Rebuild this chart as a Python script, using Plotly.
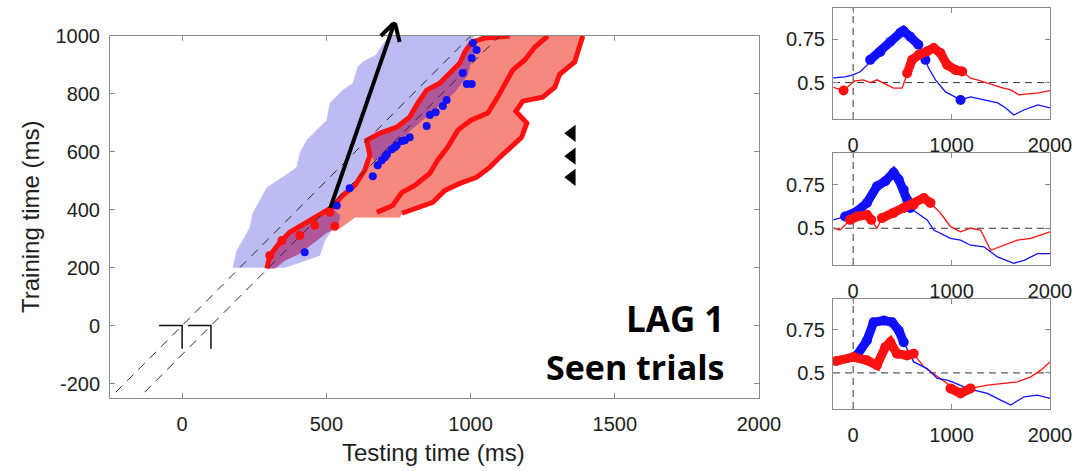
import plotly.graph_objects as go

# ---------------- main panel (temporal generalization) ----------------
blue_region_x = [176, 190, 210, 235, 245, 269, 294, 349, 398, 408, 432, 467, 502, 512, 557, 592, 609, 626, 672, 702, 727,
                 1014, 987, 945, 893, 824, 755, 668, 616, 547, 529, 495, 477, 408, 356, 176]
blue_region_y = [201, 260, 294, 339, 388, 433, 477, 512, 547, 595, 640, 675, 709, 768, 813, 837, 893, 910, 934, 979, 1000,
                 1000, 952, 865, 813, 744, 675, 606, 502, 433, 346, 294, 242, 218, 201, 201]

outer_contour_x = [294, 304, 339, 373, 443, 488, 519, 557, 599, 633, 651, 640, 685, 744, 789, 817, 848, 893, 928, 963, 980, 1004, 1049, 1136]
outer_contour_y = [197, 242, 287, 322, 363, 391, 408, 450, 484, 536, 588, 640, 664, 685, 720, 768, 813, 837, 872, 907, 945, 979, 993, 1000]

middle_contour_x = [675, 730, 762, 807, 859, 886, 921, 956, 1001, 1060, 1094, 1119, 1146, 1188, 1223, 1268]
middle_contour_y = [391, 415, 460, 484, 526, 571, 616, 675, 709, 734, 789, 830, 882, 917, 962, 1000]

right_contour_x = [762, 824, 869, 911, 963, 1021, 1067, 1101, 1136, 1177, 1195, 1157, 1181, 1250, 1292, 1309, 1361, 1372, 1382, 1389]
right_contour_y = [388, 408, 426, 467, 491, 512, 547, 581, 612, 650, 699, 740, 775, 789, 823, 868, 910, 945, 979, 1000]

red_bottom_x = [755, 600, 547, 520, 505]
red_bottom_y = [374, 374, 336, 336, 370]

band_x = [294, 304, 339, 373, 443, 488, 519, 547, 540, 500, 467, 408, 356, 321]
band_y = [197, 242, 287, 322, 363, 391, 408, 380, 340, 320, 294, 249, 225, 197]

pocket_low_x = [1014, 990, 945, 893, 841, 772, 720, 668, 644]
pocket_low_y = [958, 865, 806, 761, 716, 657, 606, 571, 598]

blue_dots_x = [536, 581, 661, 678, 692, 703, 710, 727, 737, 744, 762, 772, 789, 848, 859, 879, 904, 917, 987, 1004, 973, 1004, 1021, 1008, 425]
blue_dots_y = [415, 474, 516, 554, 571, 581, 592, 609, 616, 623, 637, 640, 650, 689, 727, 737, 758, 779, 834, 834, 872, 924, 952, 976, 253]

red_dots_x = [346, 460, 529, 304, 512, 408]
red_dots_y = [294, 346, 343, 242, 391, 311]

diag_offsets = [0, 100]
diag_y = [-230, 1000]

onset_marks_x = [[-80, 0, 0], [20, 100, 100]]
onset_marks_y = [[0, 0, -80], [0, 0, -80]]

tri_x = [1351, 1351, 1351]
tri_y = [664, 585, 512]

arrow_tail = (512, 401)
arrow_tip = (737, 1048)
arrow_wings = [(689, 1000), (754, 979)]

main_xticks = [0, 500, 1000, 1500, 2000]
main_yticks = [-200, 0, 200, 400, 600, 800, 1000]
main_yticktext = ["-200", "0", "200", "400", "600", "800", "1000"]

# ---------------- right panels (diagonal decoding) ----------------
p1_blue_t = [-204, -82, 0, 71, 143, 173, 275, 377, 479, 510, 581, 663, 683, 734, 765, 836, 938, 1091, 1193, 1326, 1469, 1550, 1632, 1734, 1877, 2000]
p1_blue_v = [0.527, 0.533, 0.545, 0.562, 0.602, 0.631, 0.677, 0.735, 0.787, 0.799, 0.764, 0.718, 0.689, 0.631, 0.585, 0.516, 0.446, 0.40, 0.417, 0.40, 0.383, 0.354, 0.313, 0.342, 0.371, 0.354]
p1_blue_sig = [[173, 663], [734, 734], [1091, 1091]]
p1_red_t = [-201, -98, -31, 20, 105, 173, 242, 344, 411, 497, 548, 599, 667, 752, 819, 887, 955, 1040, 1108, 1193, 1261, 1363, 1499, 1601, 1686, 1771, 1873, 2000]
p1_red_v = [0.473, 0.454, 0.487, 0.51, 0.516, 0.50, 0.516, 0.487, 0.468, 0.468, 0.554, 0.631, 0.66, 0.679, 0.699, 0.67, 0.602, 0.573, 0.564, 0.525, 0.516, 0.496, 0.473, 0.458, 0.429, 0.435, 0.439, 0.454]
p1_red_sig = [[-98, -98], [548, 1108]]

p2_blue_t = [-201, -82, 38, 140, 242, 326, 411, 463, 513, 548, 581, 650, 752, 819, 887, 989, 1091, 1193, 1329, 1466, 1632, 1737, 1873, 2000]
p2_blue_v = [0.548, 0.567, 0.596, 0.645, 0.740, 0.769, 0.818, 0.779, 0.721, 0.664, 0.616, 0.587, 0.548, 0.49, 0.471, 0.442, 0.432, 0.403, 0.394, 0.336, 0.30, 0.317, 0.355, 0.355]
p2_blue_sig = [[-82, 581]]
p2_red_t = [-201, -133, -31, 38, 140, 184, 242, 292, 411, 513, 615, 717, 785, 887, 989, 1091, 1193, 1295, 1397, 1533, 1669, 1805, 1907, 2000]
p2_red_v = [0.50, 0.49, 0.548, 0.567, 0.577, 0.548, 0.50, 0.558, 0.587, 0.616, 0.635, 0.673, 0.645, 0.587, 0.509, 0.48, 0.50, 0.49, 0.374, 0.403, 0.432, 0.442, 0.461, 0.48]
p2_red_sig = [[-31, 184], [292, 785]]

p3_blue_t = [-201, -98, 3, 38, 140, 208, 310, 395, 463, 513, 615, 752, 854, 955, 1006, 1125, 1227, 1363, 1499, 1601, 1737, 1873, 2000]
p3_blue_v = [0.545, 0.564, 0.592, 0.602, 0.689, 0.795, 0.805, 0.795, 0.747, 0.679, 0.564, 0.525, 0.468, 0.458, 0.448, 0.419, 0.40, 0.381, 0.342, 0.313, 0.361, 0.371, 0.352]
p3_blue_sig = [[38, 513]]
p3_red_t = [-201, -170, 3, 140, 242, 326, 377, 445, 548, 615, 717, 854, 955, 989, 1091, 1193, 1363, 1533, 1669, 1805, 1907, 2000]
p3_red_v = [0.564, 0.57, 0.592, 0.573, 0.545, 0.650, 0.679, 0.612, 0.602, 0.612, 0.535, 0.477, 0.439, 0.41, 0.381, 0.41, 0.429, 0.439, 0.448, 0.477, 0.516, 0.564]
p3_red_sig = [[-170, 615], [989, 1193]]

panel_xticks = [0, 1000, 2000]
panel_yticks = [0.5, 0.75]
panel_yticktext = ["0.5", "0.75"]
panel_xrange = [-205, 2000]
panel_yrange = [0.29, 0.93]

# ---------------- styling ----------------
W, H = 1080, 471
FONT = "Liberation Sans, Arial, sans-serif"
TXT = "#1e1e1e"
AX = "#8a8a8a"
BLUE_FILL = "#bcbcf3"
SALMON = "#f6887f"
PURPLE = "#b0579a"
RED = "#ff1010"
BLUE = "#1010ff"

fig = go.Figure()


def poly(x, y, color, xa="x", ya="y"):
    fig.add_trace(go.Scatter(x=x, y=y, fill="toself", fillcolor=color, mode="lines",
                             line=dict(width=0.5, color=color), hoverinfo="skip",
                             showlegend=False, xaxis=xa, yaxis=ya))


def line(x, y, color, width, dash=None, xa="x", ya="y"):
    fig.add_trace(go.Scatter(x=x, y=y, mode="lines", line=dict(color=color, width=width, dash=dash),
                             hoverinfo="skip", showlegend=False, xaxis=xa, yaxis=ya))


poly(blue_region_x, blue_region_y, BLUE_FILL)
i0 = outer_contour_x.index(519)
salmon_x = outer_contour_x[i0:] + right_contour_x[::-1] + red_bottom_x + [outer_contour_x[i0]]
salmon_y = outer_contour_y[i0:] + right_contour_y[::-1] + red_bottom_y + [outer_contour_y[i0]]
poly(salmon_x, salmon_y, SALMON)
poly(band_x, band_y, PURPLE)
j0 = outer_contour_x.index(640)
j1 = outer_contour_x.index(1004)
pocket_x = outer_contour_x[j0:j1 + 1] + pocket_low_x
pocket_y = outer_contour_y[j0:j1 + 1] + pocket_low_y
poly(pocket_x, pocket_y, PURPLE)

line(outer_contour_x, outer_contour_y, RED, 5)
line(middle_contour_x, middle_contour_y, RED, 5)
line(right_contour_x, right_contour_y, RED, 5)

for off in diag_offsets:
    line([diag_y[0] + off, diag_y[1] + off], diag_y, "#2a2a2a", 1, dash="9px,7px")

fig.add_trace(go.Scatter(x=red_dots_x, y=red_dots_y, mode="markers", marker=dict(color=RED, size=9),
                         hoverinfo="skip", showlegend=False))
fig.add_trace(go.Scatter(x=blue_dots_x, y=blue_dots_y, mode="markers", marker=dict(color=BLUE, size=8),
                         hoverinfo="skip", showlegend=False))

for mx, my in zip(onset_marks_x, onset_marks_y):
    line(mx, my, "#111111", 1.5)

fig.add_trace(go.Scatter(x=tri_x, y=tri_y, mode="markers",
                         marker=dict(symbol="triangle-left", color="black", size=15),
                         hoverinfo="skip", showlegend=False))

fig.add_annotation(x=arrow_tip[0], y=arrow_tip[1], ax=arrow_tail[0], ay=arrow_tail[1],
                   xref="x", yref="y", axref="x", ayref="y", text="", showarrow=True,
                   arrowhead=0, arrowwidth=4, arrowcolor="black", standoff=0, startstandoff=0)
for wx, wy in arrow_wings:
    fig.add_annotation(x=wx, y=wy, ax=arrow_tip[0], ay=arrow_tip[1],
                       xref="x", yref="y", axref="x", ayref="y", text="", showarrow=True,
                       arrowhead=0, arrowwidth=4, arrowcolor="black", standoff=0, startstandoff=0)

panels = [
    (p1_blue_t, p1_blue_v, p1_blue_sig, p1_red_t, p1_red_v, p1_red_sig),
    (p2_blue_t, p2_blue_v, p2_blue_sig, p2_red_t, p2_red_v, p2_red_sig),
    (p3_blue_t, p3_blue_v, p3_blue_sig, p3_red_t, p3_red_v, p3_red_sig),
]

for k, (bt, bv, bs, rt, rv, rs) in enumerate(panels):
    xa, ya = "x%d" % (k + 2), "y%d" % (k + 2)
    line([0, 0], panel_yrange, "#333333", 1, dash="7px,5px", xa=xa, ya=ya)
    line(panel_xrange, [0.5, 0.5], "#333333", 1, dash="7px,5px", xa=xa, ya=ya)
    line(rt, rv, RED, 1.3, xa=xa, ya=ya)
    line(bt, bv, BLUE, 1.3, xa=xa, ya=ya)
    for t, v, sig, col in ((bt, bv, bs, BLUE), (rt, rv, rs, RED)):
        for a, b in sig:
            st = [ti for ti in t if a <= ti <= b]
            sv = [vi for ti, vi in zip(t, v) if a <= ti <= b]
            fig.add_trace(go.Scatter(x=st, y=sv, mode="lines+markers",
                                     line=dict(color=col, width=9),
                                     marker=dict(color=col, size=10),
                                     hoverinfo="skip", showlegend=False, xaxis=xa, yaxis=ya))


def px_x(p):
    return p / W


def px_y(p):
    return 1 - p / H


axis_common = dict(showline=True, linecolor=AX, linewidth=1, mirror="ticks", ticks="inside",
                   ticklen=5, tickcolor=AX, showgrid=False, zeroline=False, automargin=False,
                   tickfont=dict(family=FONT, size=20, color=TXT))

layout = dict(
    width=W, height=H, margin=dict(l=0, r=0, t=0, b=0, pad=0), autosize=False,
    paper_bgcolor="white", plot_bgcolor="white", showlegend=False,
    xaxis=dict(domain=[px_x(110), px_x(759)], range=[-250, 2000], tickvals=main_xticks,
               anchor="y", ticklabelstandoff=8, **axis_common),
    yaxis=dict(domain=[px_y(398), px_y(36)], range=[-250, 1000], tickvals=main_yticks,
               ticktext=main_yticktext, anchor="x", ticklabelstandoff=5, **axis_common),
)
panel_boxes = [(8, 119), (153, 265), (299, 409)]
for k, (top, bot) in enumerate(panel_boxes):
    layout["xaxis%d" % (k + 2)] = dict(domain=[px_x(833), px_x(1050)], range=panel_xrange,
                                       tickvals=panel_xticks, anchor="y%d" % (k + 2),
                                       ticklabelstandoff=8, **axis_common)
    layout["yaxis%d" % (k + 2)] = dict(domain=[px_y(bot), px_y(top)], range=panel_yrange,
                                       tickvals=panel_yticks, ticktext=panel_yticktext,
                                       anchor="x%d" % (k + 2), ticklabelstandoff=3, **axis_common)
fig.update_layout(**layout)

fig.add_annotation(x=px_x(433), y=px_y(452), xref="paper", yref="paper", text="Testing time (ms)",
                   showarrow=False, font=dict(family=FONT, size=24, color=TXT),
                   xanchor="center", yanchor="middle")
fig.add_annotation(x=px_x(30), y=px_y(217), xref="paper", yref="paper", text="Training time (ms)",
                   showarrow=False, font=dict(family=FONT, size=24, color=TXT), textangle=-90,
                   xanchor="center", yanchor="middle")
fig.add_annotation(x=px_x(726), y=px_y(318), xref="paper", yref="paper", text="<b>LAG 1</b>",
                   showarrow=False, font=dict(family="Open Sans", size=35, color="black"),
                   xanchor="right", yanchor="middle")
fig.add_annotation(x=px_x(726), y=px_y(367), xref="paper", yref="paper", text="<b>Seen trials</b>",
                   showarrow=False, font=dict(family="Open Sans", size=34, color="black"),
                   xanchor="right", yanchor="middle")

fig.write_html("out.html", config={"responsive": False, "displayModeBar": False},
               post_script="document.body.style.margin='0';document.body.style.padding='0';"
                           "document.body.style.overflow='hidden';")
